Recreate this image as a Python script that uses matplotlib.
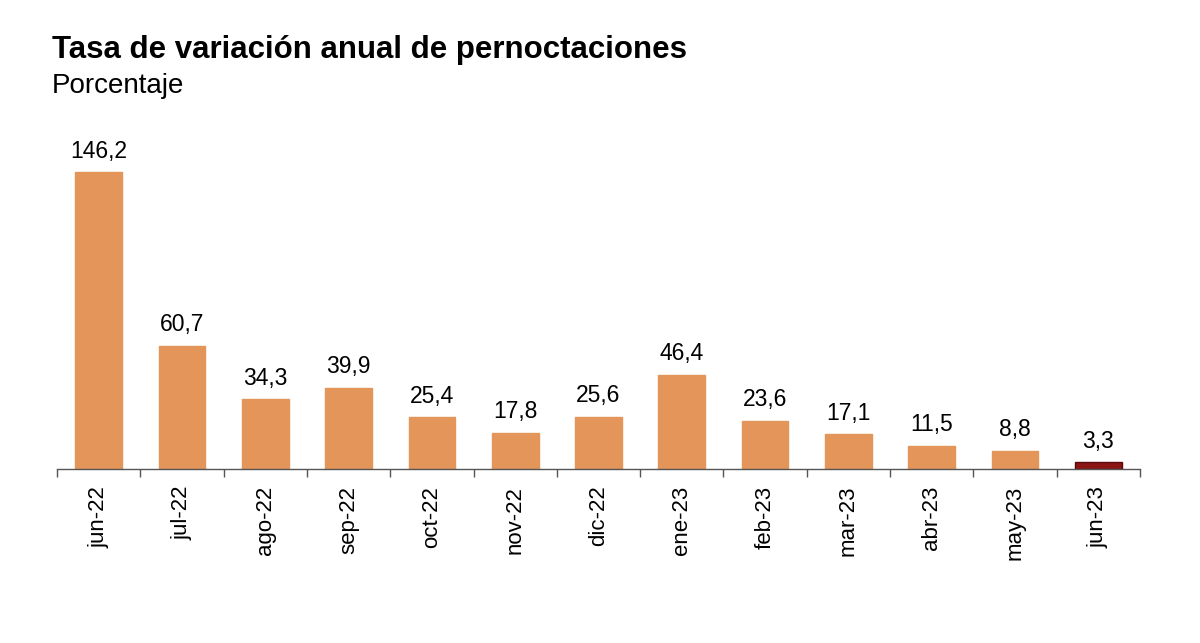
import numpy as np
import matplotlib.pyplot as plt

plt.rcParams['font.family'] = ['Liberation Sans', 'DejaVu Sans']

months = ['jun-22', 'jul-22', 'ago-22', 'sep-22', 'oct-22', 'nov-22', 'dic-22',
          'ene-23', 'feb-23', 'mar-23', 'abr-23', 'may-23', 'jun-23']
values = [146.2, 60.7, 34.3, 39.9, 25.4, 17.8, 25.6, 46.4, 23.6, 17.1, 11.5, 8.8, 3.3]

orange = '#E3955A'
dark = '#8B1414'
colors = [orange] * (len(values) - 1) + [dark]
edges = [orange] * (len(values) - 1) + ['#5A0A0A']

fig = plt.figure(figsize=(12, 6.43), dpi=100)
ax = fig.add_axes([0.0475, 0.2706, 0.9025, 0.505])

x = np.arange(len(values))
ax.bar(x, values, width=0.56, color=colors, edgecolor=edges, linewidth=1)

for xi, v in zip(x, values):
    ax.annotate(f'{v:.1f}'.replace('.', ','), (xi, v), xytext=(0, 7),
                textcoords='offset points', ha='center', va='bottom',
                fontsize=16.5, color='black', annotation_clip=False)

ax.set_xlim(-0.5, len(values) - 0.5)
ax.set_ylim(0, 160)
ax.set_xticks(x)
ax.set_xticklabels(months, rotation=90, fontsize=16)
ax.tick_params(axis='x', which='major', length=0, pad=12)
ax.set_xticks(np.arange(-0.5, len(values)), minor=True)
ax.tick_params(axis='x', which='minor', length=6, width=1, color='#555555')
ax.set_yticks([])
for s in ['top', 'right', 'left']:
    ax.spines[s].set_visible(False)
ax.spines['bottom'].set_color('#555555')
ax.spines['bottom'].set_linewidth(1)

fig.text(0.043, 0.923, 'Tasa de variación anual de pernoctaciones',
         fontsize=22.5, fontweight='bold', ha='left', va='center')
fig.text(0.043, 0.867, 'Porcentaje', fontsize=20, ha='left', va='center')

fig.savefig('out.png', dpi=100)
